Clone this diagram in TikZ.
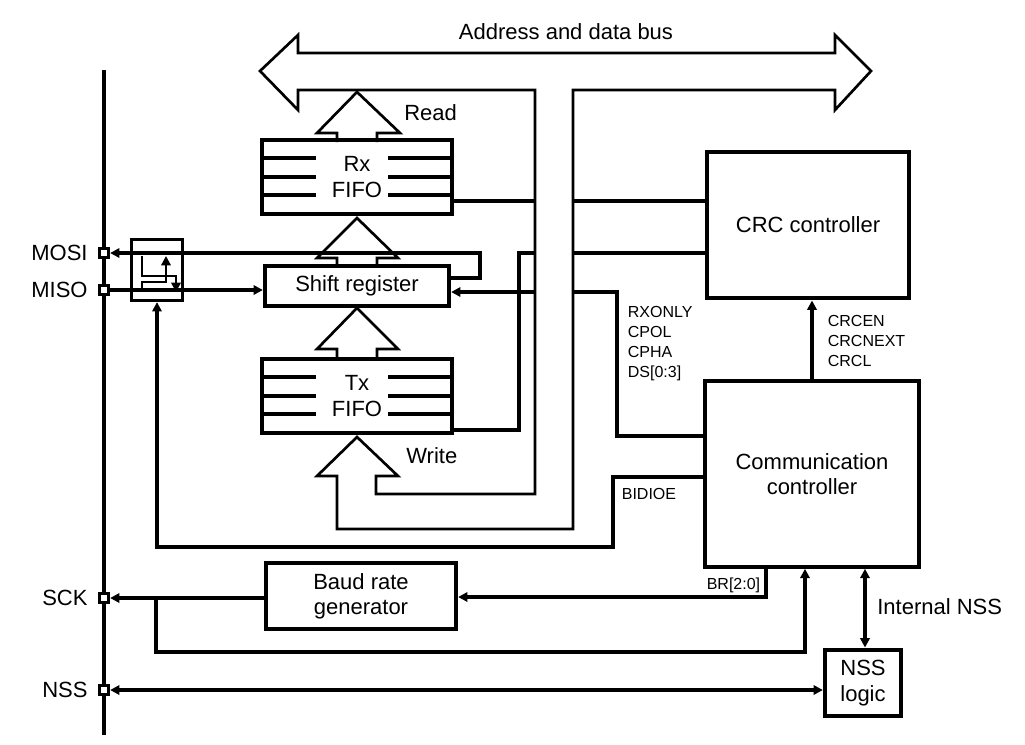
\documentclass[tikz,border=0pt]{standalone}
\usepackage{fontspec}
\setmainfont{Liberation Sans}
\usetikzlibrary{arrows.meta,positioning,calc}

\begin{document}
\begin{tikzpicture}[x=0.75pt,y=-0.75pt,line width=2.8pt,>={Triangle[length=7pt,width=7pt]}]
\tikzstyle{big}=[font=\fontsize{16.5}{19}\selectfont]
\tikzstyle{block}=[draw,line width=3.2pt,inner sep=0pt,align=center,big]
\tikzstyle{pin}=[draw,line width=2.2pt,fill=white,minimum size=7pt,inner sep=0pt]
\tikzstyle{small}=[font=\fontsize{12}{15}\selectfont,align=left,inner sep=0pt]
\tikzstyle{hollow}=[line width=2pt,line join=miter]
\useasboundingbox (0,0) rectangle (1025,744);
% bus with its stem and the write arrow
\draw [hollow] (260,71) -- (298,35) -- (298,53) -- (835,53) -- (835,35) -- (871,71)
  -- (835,110) -- (835,90) -- (573,90) -- (573,529) -- (337,529) -- (337,476)
  -- (317,476) -- (357,437) -- (398,476) -- (376,476) -- (376,494) -- (535,494)
  -- (535,90) -- (298,90) -- (298,110) -- cycle;
\node [big] (bus) at (566,32) {Address and data bus};
% blocks
\node [block,minimum width=142.5pt,minimum height=56pt] (rx) at (357,177) {Rx\\FIFO};
\node [block,minimum width=138pt,minimum height=30pt] (shift) at (357,286) {Shift register};
\node [block,minimum width=142.5pt,minimum height=56pt] (tx) at (357,396) {Tx\\FIFO};
\node [block,minimum width=152pt,minimum height=110pt] (crc) at (808,225) {CRC controller};
\node [block,minimum width=161pt,minimum height=139pt] (comm) at (812,474) {Communication\\controller};
\node [block,minimum width=142.5pt,minimum height=49pt] (baud) at (361,596) {Baud rate\\generator};
\node [block,minimum width=57pt,minimum height=50pt] (nsslog) at (863,683) {NSS\\logic};
\node [draw,line width=2.2pt,minimum width=38pt,minimum height=46pt] (sw) at (157,270) {};
% fifo stripes
\foreach \f in {rx,tx}{
  \foreach \d in {-19,0,18}{
    \draw [line width=3.2pt] ($(\f.west)+(0,\d)$) -- ++(56,0);
    \draw [line width=3.2pt] ($(\f.east)+(0,\d)$) -- ++(-66,0);
  }
}
% hollow arrows
\draw [hollow] (337,142) -- (337,133) -- (317,133) -- (357,92) -- (400,133) -- (377,133) -- (377,142);
\draw [hollow] (337,266) -- (337,258) -- (317,258) -- (357,218) -- (398,258) -- (377,258) -- (377,266);
\draw [hollow] (337,359) -- (337,349) -- (317,349) -- (357,308) -- (398,349) -- (377,349) -- (377,359);
\node [big,right] (read) at (398,113) {Read};
\node [big,right] (write) at (400,456) {Write};
% pins
\draw (104,70) -- (104,735);
\node [pin] (mosi) at (104,253) {};
\node [pin] (miso) at (104,290) {};
\node [pin] (sck) at (104,598) {};
\node [pin] (nss) at (104,690) {};
\node [big,left=3pt of mosi] {MOSI};
\node [big,left=3pt of miso] {MISO};
\node [big,left=3pt of sck] {SCK};
\node [big,left=3pt of nss] {NSS};
% switch symbol
\draw [line width=2pt,->] (142,256) |- (176,276) -- (176,292);
\draw [line width=2pt,->] (142,292) |- (166,282) -- (166,256);
% data paths
\draw [->] (shift.east |- 0,278) -- (480,278) -- (480,253) -- (mosi.east);
\draw [->] (miso.east) -- (shift.west |- 0,290);
\draw (rx.east |- 0,201) -- (535,201);
\draw (573,201) -- (crc.west |- 0,201);
\draw (573,253) -- (crc.west |- 0,253);
\draw (535,253) -- (519,253) -- (519,430) -- (tx.east |- 0,430);
\draw [->] (535,292) -- (shift.east |- 0,292);
\draw (573,292) -- (617,292) -- (617,436) -- (comm.west |- 0,436);
\draw [->] (comm.west |- 0,477) -- (613,477) -- (613,547) -- (157,547) -- (sw.south);
\draw [->] (comm.north -| 812,0) -- (crc.south -| 812,0);
\draw [->] (comm.south -| 766,0) -- (766,597) -- (baud.east |- 0,597);
\draw [->] (baud.west |- 0,598) -- (sck.east);
\draw [->] (156,598) -- (156,652) -- (805,652) -- (comm.south -| 805,0);
\draw [<->] (nss.east) -- (nsslog.west |- 0,690);
\draw [<->] (comm.south -| 865,0) -- (nsslog.north -| 865,0);
% control labels
\node [small,anchor=north west] (ctrl) at (626,304) {RXONLY\\CPOL\\CPHA\\DS[0:3]};
\node [small,anchor=north west] (crcbits) at (826,313) {CRCEN\\CRCNEXT\\CRCL};
\node [small,anchor=west] (bidioe) at (620,494) {BIDIOE};
\node [small,anchor=east] (br) at (762,585) {BR[2:0]};
\node [big,anchor=west] (intnss) at (871,607) {Internal NSS};
\end{tikzpicture}
\end{document}
